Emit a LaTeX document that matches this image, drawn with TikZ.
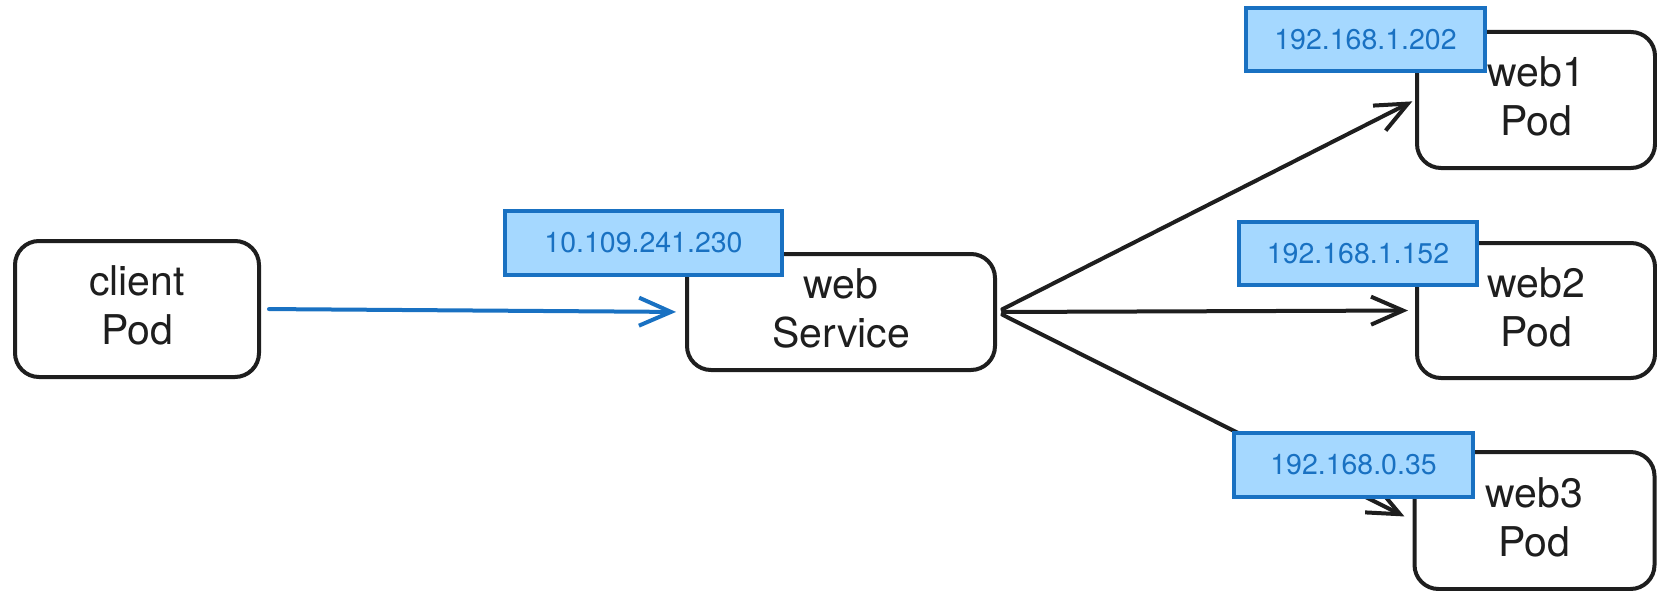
\documentclass[tikz,border=0pt]{standalone}
\usepackage{fontspec}
\setmainfont{TeX Gyre Heros}
\usetikzlibrary{arrows.meta}
\definecolor{ink}{HTML}{1E1E1E}
\definecolor{bstroke}{HTML}{1971C2}
\definecolor{bfill}{HTML}{A5D8FF}
\tikzset{
  podbox/.style={draw=ink, line width=4pt, rounded corners=24pt, fill=white,
    align=center, text=ink, inner sep=0pt, text depth=7pt, font=\fontsize{41}{49}\selectfont},
  iplabel/.style={draw=bstroke, fill=bfill, line width=3.6pt, text=bstroke,
    inner sep=0pt, font=\fontsize{28.5}{32}\selectfont},
  flow/.style={line width=4pt, draw=ink, line cap=round,
    -{Straight Barb[length=32pt,width=28pt,line width=4pt]}},
  blueflow/.style={flow, draw=bstroke}
}
\begin{document}
\begin{tikzpicture}[x=1pt,y=-1pt]
\useasboundingbox (0,0) rectangle (1657,591);
% boxes
\node[podbox, minimum width=244pt, minimum height=136pt] (client) at (137,309) {client\\Pod};
\node[podbox, minimum width=308pt, minimum height=116pt] (svc) at (841,312) {web\\Service};
\node[podbox, minimum width=238pt, minimum height=136pt] (web1) at (1536,100) {web1\\Pod};
\node[podbox, minimum width=238pt, minimum height=135pt] (web2) at (1536,310.5) {web2\\Pod};
\node[podbox, minimum width=240pt, minimum height=137pt] (web3) at (1534.5,520.5) {web3\\Pod};
% connectors
\draw[blueflow, shorten <=8pt, shorten >=9pt] (client.east) -- (svc.west);
\draw[flow, shorten <=6pt, shorten >=3pt] (svc.east) -- (web1.west);
\draw[flow, shorten <=6pt, shorten >=7pt] (svc.east) -- (web2.west);
\draw[flow, shorten <=6pt, shorten >=9pt] (svc.east) -- (web3.west);
% ip labels
\node[iplabel, minimum width=277pt, minimum height=64pt] (ipsvc) at (643.5,243) {10.109.241.230};
\node[iplabel, minimum width=239pt, minimum height=63pt] (ip1) at (1365.5,39.5) {192.168.1.202};
\node[iplabel, minimum width=238pt, minimum height=63pt] (ip2) at (1358,253.5) {192.168.1.152};
\node[iplabel, minimum width=239pt, minimum height=64pt] (ip3) at (1353.5,465) {192.168.0.35};
\end{tikzpicture}
\end{document}
